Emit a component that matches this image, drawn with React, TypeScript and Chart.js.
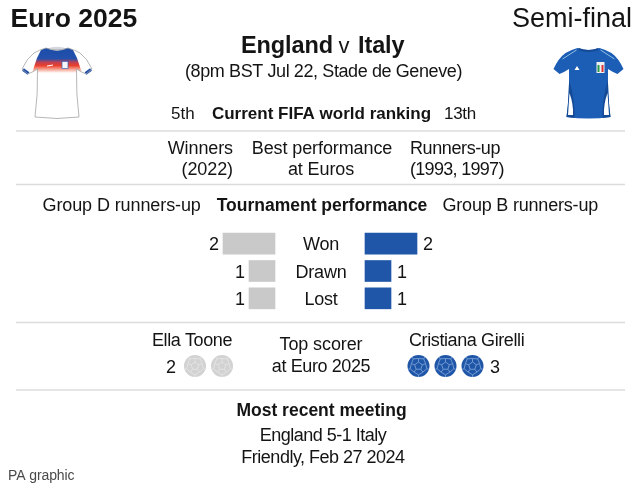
import React, { useEffect, useRef } from 'react'
import { Chart, registerables } from 'chart.js'

Chart.register(...registerables)

const outcomes = ['Won', 'Drawn', 'Lost']
const englandResults = [2, 1, 1]
const italyResults = [2, 1, 1]
const englandGoals = 2
const italyGoals = 3

const FONT = '"Liberation Sans", Arial, sans-serif'
const INK = '#141414'
const GREY_BAR = '#c9c9c9'
const BLUE_BAR = '#1f56a7'
const RULE = '#dcdcdc'

// 26px per match, left series reads outwards from x=275, right one from x=365
const PX_PER_UNIT = 26
const leftAxisMin = -(640 - 275) / PX_PER_UNIT
const leftAxisMax = 275 / PX_PER_UNIT
const rightAxisMin = -365 / PX_PER_UNIT
const rightAxisMax = 275 / PX_PER_UNIT

type Align = 'left' | 'right' | 'center'

function put(ctx: CanvasRenderingContext2D, str: string, x: number, y: number, size: number, align: Align = 'center', bold = false, spacing = 0, color = INK) {
  ctx.font = `${bold ? 'bold ' : ''}${size}px ${FONT}`
  ctx.textAlign = align
  ctx.textBaseline = 'alphabetic'
  ctx.fillStyle = color
  ;(ctx as any).letterSpacing = `${spacing}px`
  ctx.fillText(str, x, y)
  ;(ctx as any).letterSpacing = '0px'
}

function shirtPath(ctx: CanvasRenderingContext2D, cx: number) {
  ctx.beginPath()
  ctx.moveTo(cx - 11, 48)
  ctx.quadraticCurveTo(cx - 18, 50, cx - 23, 53)
  ctx.quadraticCurveTo(cx - 30, 58, cx - 35, 69)
  ctx.lineTo(cx - 29, 74)
  ctx.quadraticCurveTo(cx - 24, 72, cx - 19.5, 69)
  ctx.quadraticCurveTo(cx - 19, 95, cx - 22, 117)
  ctx.quadraticCurveTo(cx, 120, cx + 22, 117)
  ctx.quadraticCurveTo(cx + 19, 95, cx + 19.5, 69)
  ctx.quadraticCurveTo(cx + 24, 72, cx + 29, 74)
  ctx.lineTo(cx + 35, 69)
  ctx.quadraticCurveTo(cx + 30, 58, cx + 23, 53)
  ctx.quadraticCurveTo(cx + 18, 50, cx + 11, 48)
  ctx.quadraticCurveTo(cx, 52, cx - 11, 48)
  ctx.closePath()
}

function drawEnglandShirt(ctx: CanvasRenderingContext2D, cx: number) {
  ctx.save()
  shirtPath(ctx, cx)
  ctx.fillStyle = '#fff'
  ctx.fill()
  ctx.save()
  ctx.clip()
  // blue yoke melting into a red band
  const g = ctx.createLinearGradient(0, 48, 0, 73)
  g.addColorStop(0, '#1d4ea8')
  g.addColorStop(0.42, '#2350ad')
  g.addColorStop(0.58, '#c2404f')
  g.addColorStop(0.7, '#ea3f2a')
  g.addColorStop(0.86, '#f7a796')
  g.addColorStop(1, '#ffffff')
  ctx.fillStyle = g
  ctx.beginPath()
  ctx.moveTo(cx - 14, 46)
  ctx.lineTo(cx + 14, 46)
  ctx.lineTo(cx + 20, 58)
  ctx.lineTo(cx + 25, 73)
  ctx.lineTo(cx - 25, 73)
  ctx.lineTo(cx - 20, 58)
  ctx.closePath()
  ctx.fill()
  ctx.restore()
  // cuffs
  ctx.strokeStyle = '#1d4ea8'
  ctx.lineWidth = 3
  ctx.beginPath()
  ctx.moveTo(cx - 34, 69.5)
  ctx.lineTo(cx - 28.5, 73.5)
  ctx.moveTo(cx + 34, 69.5)
  ctx.lineTo(cx + 28.5, 73.5)
  ctx.stroke()
  // collar
  ctx.fillStyle = '#d4d7de'
  ctx.beginPath()
  ctx.ellipse(cx, 49, 9, 2.2, 0, 0, Math.PI * 2)
  ctx.fill()
  ctx.lineWidth = 2.5
  ctx.beginPath()
  ctx.moveTo(cx - 11, 49)
  ctx.quadraticCurveTo(cx, 55, cx + 11, 49)
  ctx.stroke()
  // badge and swoosh
  ctx.fillStyle = '#f4f6fb'
  ctx.fillRect(cx + 5, 61.5, 6, 7)
  ctx.strokeStyle = '#3e62b5'
  ctx.lineWidth = 0.7
  ctx.strokeRect(cx + 5, 61.5, 6, 7)
  ctx.strokeStyle = '#fff'
  ctx.lineWidth = 1
  ctx.beginPath()
  ctx.moveTo(cx - 10, 66)
  ctx.lineTo(cx - 4, 65)
  ctx.stroke()
  shirtPath(ctx, cx)
  ctx.strokeStyle = '#a3a3a3'
  ctx.lineWidth = 0.8
  ctx.stroke()
  ctx.restore()
}

function drawItalyShirt(ctx: CanvasRenderingContext2D, cx: number) {
  ctx.save()
  shirtPath(ctx, cx)
  ctx.fillStyle = '#1c5db6'
  ctx.fill()
  ctx.save()
  ctx.clip()
  // darker side panels with a white flash low down
  ctx.fillStyle = '#154a96'
  ctx.beginPath()
  ctx.moveTo(cx - 20, 78)
  ctx.quadraticCurveTo(cx - 13, 100, cx - 14, 120)
  ctx.lineTo(cx - 25, 120)
  ctx.closePath()
  ctx.moveTo(cx + 20, 78)
  ctx.quadraticCurveTo(cx + 13, 100, cx + 14, 120)
  ctx.lineTo(cx + 25, 120)
  ctx.closePath()
  ctx.fill()
  ctx.fillStyle = '#fff'
  ctx.beginPath()
  ctx.moveTo(cx - 19, 93)
  ctx.quadraticCurveTo(cx - 15, 104, cx - 15.5, 115)
  ctx.lineTo(cx - 20.5, 115)
  ctx.closePath()
  ctx.moveTo(cx + 19, 93)
  ctx.quadraticCurveTo(cx + 15, 104, cx + 15.5, 115)
  ctx.lineTo(cx + 20.5, 115)
  ctx.closePath()
  ctx.fill()
  ctx.restore()
  // shoulder stripes
  ctx.strokeStyle = '#8fbfdf'
  ctx.lineWidth = 1
  ctx.beginPath()
  ctx.moveTo(cx - 12, 50)
  ctx.lineTo(cx - 26, 59)
  ctx.moveTo(cx + 12, 50)
  ctx.lineTo(cx + 26, 59)
  ctx.stroke()
  // collar
  ctx.strokeStyle = '#154a96'
  ctx.lineWidth = 2
  ctx.beginPath()
  ctx.moveTo(cx - 10, 49)
  ctx.quadraticCurveTo(cx, 53, cx + 10, 49)
  ctx.stroke()
  // logo and crest
  ctx.fillStyle = '#fff'
  ctx.beginPath()
  ctx.moveTo(cx - 14, 70)
  ctx.lineTo(cx - 11.5, 66)
  ctx.lineTo(cx - 9, 70)
  ctx.closePath()
  ctx.fill()
  ctx.fillStyle = '#eef0f4'
  ctx.fillRect(cx + 8, 62, 8, 11)
  ctx.fillStyle = '#2c9a4b'
  ctx.fillRect(cx + 9, 65, 2, 7)
  ctx.fillStyle = '#d8322e'
  ctx.fillRect(cx + 13, 65, 2, 7)
  ctx.restore()
}

function drawBall(ctx: CanvasRenderingContext2D, cx: number, cy: number, fill: string, seam: string) {
  const r = 11
  ctx.save()
  ctx.beginPath()
  ctx.arc(cx, cy, r, 0, Math.PI * 2)
  ctx.fillStyle = fill
  ctx.fill()
  ctx.clip()
  ctx.strokeStyle = seam
  ctx.lineWidth = 0.9
  const corner = (rad: number, i: number): [number, number] => {
    const a = -Math.PI / 2 + (i * 2 * Math.PI) / 5
    return [cx + rad * Math.cos(a), cy + rad * Math.sin(a)]
  }
  ctx.beginPath()
  for (let i = 0; i < 5; i++) {
    const [x, y] = corner(4, i)
    if (i === 0) ctx.moveTo(x, y)
    else ctx.lineTo(x, y)
  }
  ctx.closePath()
  for (let i = 0; i < 5; i++) {
    const [x0, y0] = corner(4, i)
    const [x1, y1] = corner(7.5, i)
    ctx.moveTo(x0, y0)
    ctx.lineTo(x1, y1)
    const a = -Math.PI / 2 + ((i + 0.5) * 2 * Math.PI) / 5
    const b = corner(7.5, i + 1)
    ctx.moveTo(x1, y1)
    ctx.lineTo(cx + 8.8 * Math.cos(a), cy + 8.8 * Math.sin(a))
    ctx.lineTo(b[0], b[1])
    ctx.moveTo(cx + 8.8 * Math.cos(a), cy + 8.8 * Math.sin(a))
    ctx.lineTo(cx + 12 * Math.cos(a), cy + 12 * Math.sin(a))
  }
  ctx.stroke()
  ctx.restore()
}

const pageArt = {
  id: 'pageArt',
  afterDraw(chart: Chart) {
    const ctx = chart.ctx
    ctx.save()

    // rules
    ctx.strokeStyle = RULE
    ctx.lineWidth = 1.5
    for (const y of [131, 184.5, 322.5, 390]) {
      ctx.beginPath()
      ctx.moveTo(16, y)
      ctx.lineTo(625, y)
      ctx.stroke()
    }

    // header
    put(ctx, 'Euro 2025', 10.5, 27, 26.5, 'left', true)
    put(ctx, 'Semi-final', 632, 27, 27, 'right')
    put(ctx, 'England', 241, 53, 23.5, 'left', true, -0.1)
    put(ctx, 'v', 344, 53, 22, 'center')
    put(ctx, 'Italy', 358, 53, 23.5, 'left', true, -0.1)
    put(ctx, '(8pm BST Jul 22, Stade de Geneve)', 323.5, 77, 18, 'center', false, -0.4)
    drawEnglandShirt(ctx, 57)
    drawItalyShirt(ctx, 588.5)

    put(ctx, '5th', 171, 119, 17, 'left')
    put(ctx, 'Current FIFA world ranking', 321.5, 119, 17, 'center', true)
    put(ctx, '13th', 444, 119, 17, 'left', false, -0.3)

    put(ctx, 'Winners', 233, 154, 18, 'right', false, -0.1)
    put(ctx, '(2022)', 233, 175, 18, 'right', false, -0.1)
    put(ctx, 'Best performance', 322, 154, 18, 'center', false, -0.1)
    put(ctx, 'at Euros', 321, 175, 18, 'center', false, -0.1)
    put(ctx, 'Runners-up', 410, 154, 18, 'left', false, -0.4)
    put(ctx, '(1993, 1997)', 410, 175, 18, 'left', false, -0.7)

    put(ctx, 'Group D runners-up', 42.5, 211, 18, 'left', false, -0.1)
    put(ctx, 'Tournament performance', 322, 211, 17.5, 'center', true)
    put(ctx, 'Group B runners-up', 598, 211, 18, 'right', false, -0.2)

    // category names and value labels follow the bars
    const yScale = chart.scales.y
    outcomes.forEach((name, i) => {
      put(ctx, name, 321, yScale.getPixelForValue(i) + 6 + i * 0.5, 18, 'center', false, -0.2)
    })
    chart.getDatasetMeta(0).data.forEach((bar: any, i: number) => {
      put(ctx, String(englandResults[i]), bar.x - 4, bar.y + 6 + i * 0.5, 18, 'right')
    })
    chart.getDatasetMeta(1).data.forEach((bar: any, i: number) => {
      put(ctx, String(italyResults[i]), bar.x + 6, bar.y + 6 + i * 0.5, 18, 'left')
    })

    // top scorers
    put(ctx, 'Ella Toone', 192, 346, 18, 'center', false, -0.4)
    put(ctx, 'Cristiana Girelli', 409, 346, 18, 'left', false, -0.4)
    put(ctx, 'Top scorer', 321, 350, 18, 'center', false, -0.1)
    put(ctx, 'at Euro 2025', 321, 371.5, 18, 'center', false, -0.4)
    put(ctx, String(englandGoals), 176, 373, 18, 'right')
    put(ctx, String(italyGoals), 490, 373, 18, 'left')
    for (let i = 0; i < englandGoals; i++) drawBall(ctx, 195 + i * 27, 366, '#d2d2d2', '#e4e4e4')
    for (let i = 0; i < italyGoals; i++) drawBall(ctx, 418.5 + i * 27, 366, '#1f56a7', '#7ba1d8')

    // last meeting
    put(ctx, 'Most recent meeting', 321.5, 416, 17.5, 'center', true)
    put(ctx, 'England 5-1 Italy', 323, 441, 18, 'center', false, -0.5)
    put(ctx, 'Friendly, Feb 27 2024', 323, 463, 18, 'center', false, -0.5)
    put(ctx, 'PA graphic', 8, 480, 14, 'left', false, -0.1, '#4a4a4a')

    ctx.restore()
  },
}

const App: React.FC = () => {
  const canvasRef = useRef<HTMLCanvasElement | null>(null)

  useEffect(() => {
    const ctx = canvasRef.current?.getContext('2d')
    if (!ctx) return
    const chart = new Chart(ctx, {
      type: 'bar',
      data: {
        labels: outcomes,
        datasets: [
          { label: 'England', data: englandResults, backgroundColor: GREY_BAR, xAxisID: 'xLeft' },
          { label: 'Italy', data: italyResults, backgroundColor: BLUE_BAR, xAxisID: 'xRight' },
        ],
      },
      options: {
        indexAxis: 'y',
        responsive: false,
        animation: false,
        layout: { padding: { top: 230, bottom: 176, left: 0, right: 0 } },
        datasets: { bar: { grouped: false, barThickness: 21, borderWidth: 0 } },
        scales: {
          y: { display: false },
          xLeft: { type: 'linear', display: false, reverse: true, min: leftAxisMin, max: leftAxisMax },
          xRight: { type: 'linear', display: false, min: rightAxisMin, max: rightAxisMax },
        },
        plugins: { legend: { display: false }, tooltip: { enabled: false } },
      },
      plugins: [pageArt],
    })
    return () => chart.destroy()
  }, [])

  return (
    <div style={{ position: 'absolute', left: 0, top: 0, width: 640, height: 488, background: '#fff' }}>
      <canvas ref={canvasRef} width={640} height={488} style={{ display: 'block' }}></canvas>
    </div>
  )
}

export default App
